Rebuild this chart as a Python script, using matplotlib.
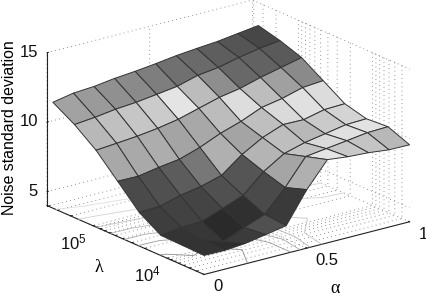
import numpy as np
import matplotlib
matplotlib.use("Agg")
import matplotlib.pyplot as plt

alpha = np.linspace(0, 1, 11)
log_lambda = np.linspace(3.5, 5.54, 8)

noise_std = np.array([
    [5.37, 5.35, 5.47, 5.73, 6.00, 8.21, 9.99, 9.82, 9.73, 9.56, 9.54],
    [5.41, 5.39, 4.94, 5.56, 6.12, 7.68, 9.53, 9.72, 9.91, 10.11, 10.16],
    [5.45, 5.64, 5.69, 6.24, 6.80, 8.14, 9.06, 9.47, 9.73, 10.00, 10.05],
    [6.42, 6.47, 6.88, 7.15, 7.56, 8.69, 9.53, 10.09, 10.06, 10.40, 10.45],
    [7.98, 7.96, 8.22, 8.42, 8.90, 9.53, 10.01, 10.63, 10.90, 11.31, 11.43],
    [9.53, 9.65, 9.78, 9.97, 10.24, 10.65, 11.06, 11.32, 11.73, 12.07, 12.41],
    [10.70, 10.84, 11.04, 11.16, 11.35, 11.55, 11.96, 12.15, 12.49, 12.76, 12.95],
    [11.62, 11.90, 12.00, 12.20, 12.33, 12.50, 12.70, 12.84, 12.96, 13.16, 13.35],
])

cell_gray = np.array([
    [0x33, 0x2e, 0x3b, 0x50, 0x3a, 0xb0, 0xe4, 0xc8, 0xc4, 0xb8],
    [0x34, 0x37, 0x2a, 0x30, 0x4a, 0xa5, 0xc4, 0xda, 0xe0, 0xe2],
    [0x3e, 0x42, 0x44, 0x50, 0x55, 0xb4, 0xbe, 0xb8, 0xca, 0xd4],
    [0x4a, 0x50, 0x5c, 0x77, 0xb0, 0xa4, 0xbf, 0xda, 0xe0, 0xdc],
    [0xa8, 0xa9, 0xad, 0xa4, 0xa8, 0xbc, 0xdd, 0xbd, 0xa0, 0x8a],
    [0xb8, 0xc0, 0xc6, 0xcb, 0xe4, 0xbc, 0x8e, 0x68, 0x62, 0x5a],
    [0xa2, 0x9a, 0x90, 0x8a, 0x7e, 0x70, 0x6a, 0x5e, 0x55, 0x47],
]) / 255.0

alpha_ticks = [0, 0.5, 1]
alpha_labels = ["0", "0.5", "1"]
noise_ticks = [5, 10, 15]
noise_labels = ["5", "10", "15"]
lambda_tick_values = [4e3, 5e3, 6e3, 7e3, 8e3, 9e3, 1e4, 2e4, 3e4, 4e4, 5e4, 6e4,
                      7e4, 8e4, 9e4, 1e5, 2e5, 3e5, 4e5]
lambda_labelled = {1e4: r"$\mathregular{10^{4}}$", 1e5: r"$\mathregular{10^{5}}$"}
contour_levels = [5.5, 6.5, 7.5, 8.5, 9.5, 10.5, 11.5, 12.5]

plt.rcParams.update({
    "font.family": ["Liberation Sans", "DejaVu Sans"],
    "font.size": 12,
    "mathtext.fontset": "custom",
    "mathtext.rm": "Liberation Sans",
    "grid.color": "#707070",
    "grid.linestyle": (0, (1, 4)),
    "grid.linewidth": 0.6,
    "axes.edgecolor": "#222222",
})

fig = plt.figure(figsize=(4.26, 2.94), dpi=100)
ax = fig.add_axes([0.0223, -0.2109, 1, 1.449], projection="3d", computed_zorder=False,
                  proj_type="ortho")
ax.view_init(elev=19.6, azim=-127.4)
ax.set_box_aspect((1, 1, 0.627), zoom=0.912)
ax.set_xlim(0, 1, view_margin=0)
ax.set_ylim(3.5, 5.62, view_margin=0)
ax.set_zlim(4, 15, view_margin=0)

A, L = np.meshgrid(alpha, log_lambda)
face = np.ones(noise_std.shape + (4,))
face[:-1, :-1, 0] = cell_gray
face[:-1, :-1, 1] = cell_gray
face[:-1, :-1, 2] = cell_gray

ax.contour(A, L, noise_std, levels=contour_levels, zdir="z", offset=4,
           cmap="gray", vmin=-5, vmax=14, linewidths=0.6, zorder=1)
ax.plot_surface(A, L, noise_std, rstride=1, cstride=1, facecolors=face,
                shade=False, edgecolor="#333333", linewidth=0.7, zorder=2,
                antialiased=True)

ax.set_xticks(alpha_ticks, alpha_labels)
ax.set_zticks(noise_ticks, noise_labels)
ax.set_yticks(np.log10(lambda_tick_values),
              [lambda_labelled.get(v, "") for v in lambda_tick_values])

for axis in (ax.xaxis, ax.yaxis, ax.zaxis):
    axis.set_pane_color((1, 1, 1, 0))
    axis.pane.set_edgecolor((1, 1, 1, 0))
    axis.line.set_color("#222222")
    axis.line.set_linewidth(0.8)
    axis._axinfo["tick"]["inward_factor"] = 0.0
    axis._axinfo["tick"]["outward_factor"] = 0.1
    axis._axinfo["tick"]["linewidth"] = {True: 0.6, False: 0.5}
ax.tick_params(axis="both", labelsize=12, colors="#111111")
ax.tick_params(axis="x", pad=1)
ax.tick_params(axis="y", pad=-3)
ax.tick_params(axis="z", pad=-4)
for t in ax.xaxis.get_ticklabels():
    t.set_ha("left")
    t.set_va("center")
for t in ax.yaxis.get_ticklabels():
    t.set_ha("right")
for t in ax.zaxis.get_ticklabels():
    t.set_ha("right")
    t.set_va("center")
ax.zaxis.set_rotate_label(False)
ax.set_xlabel("α", family=["Liberation Serif"], fontsize=13, labelpad=8, ha="left")
ax.set_ylabel("λ", family=["Liberation Serif"], fontsize=13, labelpad=0)
ax.set_zlabel("Noise standard deviation", rotation=90, fontsize=11.4, labelpad=-4.5)

fig.savefig("out.png", dpi=100)
